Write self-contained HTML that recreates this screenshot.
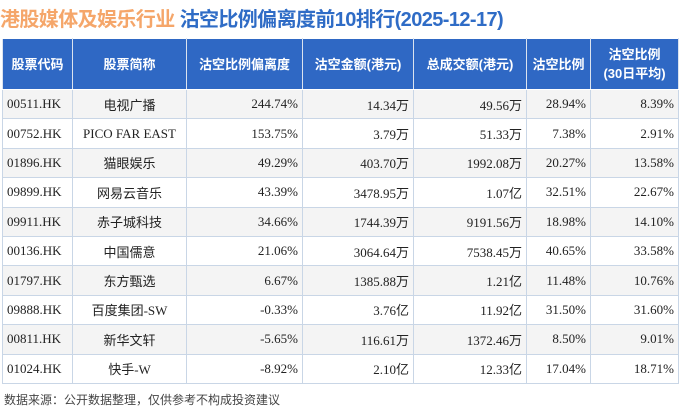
<!DOCTYPE html>
<html><head><meta charset="utf-8"><style>
body{margin:0;width:680px;height:410px;background:#fff;font-family:"Liberation Serif","Noto Sans CJK SC",serif;overflow:hidden;position:relative}
.t{position:absolute;left:0px;top:3px;font:bold 20px "Liberation Sans","Noto Sans CJK SC",sans-serif;white-space:nowrap;letter-spacing:-0.6px}
.t .a{color:#f5a66a}.t .b{color:#2f6cc6}
table{position:absolute;left:2px;top:38px;border-collapse:collapse;table-layout:fixed;width:676px}
td,th{border:1px solid #c9d6e6;font-size:13px;height:28.4px;padding:0 4px;white-space:nowrap}
th{background:#2f68c4;color:#fff;font:bold 13px "Liberation Sans","Noto Sans CJK SC",sans-serif;height:50px;border-color:#fff #dbe3ef;line-height:19px}
tr:nth-child(even) td{background:#f4f4f4}
td{color:#222}
.c{text-align:center}.r{text-align:right}.l{text-align:left}
.f{position:absolute;left:4px;top:391px;font:12px "Liberation Sans","Noto Sans CJK SC",sans-serif;color:#444}
</style></head><body>
<div class="t"><span class="a">港股媒体及娱乐行业</span> <span class="b">沽空比例偏离度前10排行(2025-12-17)</span></div>
<table>
<colgroup><col style="width:70px"><col style="width:114px"><col style="width:116px"><col style="width:111px"><col style="width:113px"><col style="width:64px"><col style="width:88px"></colgroup>
<tr><th>股票代码</th><th>股票简称</th><th>沽空比例偏离度</th><th>沽空金额(港元)</th><th>总成交额(港元)</th><th>沽空比例</th><th>沽空比例<br>(30日平均)</th></tr>
<tr><td class="l">00511.HK</td><td class="c">电视广播</td><td class="r">244.74%</td><td class="r">14.34万</td><td class="r">49.56万</td><td class="r">28.94%</td><td class="r">8.39%</td></tr>
<tr><td class="l">00752.HK</td><td class="c">PICO FAR EAST</td><td class="r">153.75%</td><td class="r">3.79万</td><td class="r">51.33万</td><td class="r">7.38%</td><td class="r">2.91%</td></tr>
<tr><td class="l">01896.HK</td><td class="c">猫眼娱乐</td><td class="r">49.29%</td><td class="r">403.70万</td><td class="r">1992.08万</td><td class="r">20.27%</td><td class="r">13.58%</td></tr>
<tr><td class="l">09899.HK</td><td class="c">网易云音乐</td><td class="r">43.39%</td><td class="r">3478.95万</td><td class="r">1.07亿</td><td class="r">32.51%</td><td class="r">22.67%</td></tr>
<tr><td class="l">09911.HK</td><td class="c">赤子城科技</td><td class="r">34.66%</td><td class="r">1744.39万</td><td class="r">9191.56万</td><td class="r">18.98%</td><td class="r">14.10%</td></tr>
<tr><td class="l">00136.HK</td><td class="c">中国儒意</td><td class="r">21.06%</td><td class="r">3064.64万</td><td class="r">7538.45万</td><td class="r">40.65%</td><td class="r">33.58%</td></tr>
<tr><td class="l">01797.HK</td><td class="c">东方甄选</td><td class="r">6.67%</td><td class="r">1385.88万</td><td class="r">1.21亿</td><td class="r">11.48%</td><td class="r">10.76%</td></tr>
<tr><td class="l">09888.HK</td><td class="c">百度集团-SW</td><td class="r">-0.33%</td><td class="r">3.76亿</td><td class="r">11.92亿</td><td class="r">31.50%</td><td class="r">31.60%</td></tr>
<tr><td class="l">00811.HK</td><td class="c">新华文轩</td><td class="r">-5.65%</td><td class="r">116.61万</td><td class="r">1372.46万</td><td class="r">8.50%</td><td class="r">9.01%</td></tr>
<tr><td class="l">01024.HK</td><td class="c">快手-W</td><td class="r">-8.92%</td><td class="r">2.10亿</td><td class="r">12.33亿</td><td class="r">17.04%</td><td class="r">18.71%</td></tr>
</table>
<div class="f">数据来源：公开数据整理，仅供参考不构成投资建议</div>
</body></html>
